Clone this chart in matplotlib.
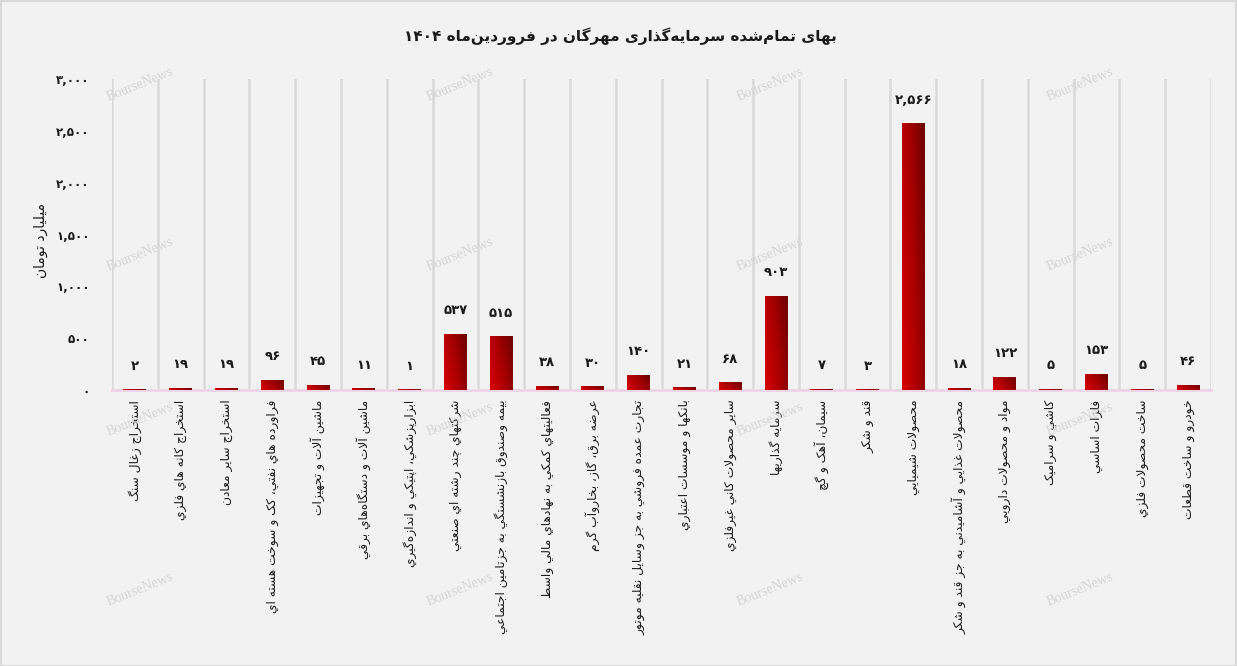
import numpy as np
import matplotlib
matplotlib.use("Agg")
import matplotlib.pyplot as plt
from matplotlib.colors import LinearSegmentedColormap
from matplotlib.ticker import FuncFormatter

TITLE = "بهای تمام‌شده سرمایه‌گذاری مهرگان در فروردین‌ماه ۱۴۰۴"
YLABEL = "میلیارد تومان"

categories = [
    "استخراج زغال سنگ",
    "استخراج كانه هاي فلزي",
    "استخراج ساير معادن",
    "فراورده هاي نفتي، كک و سوخت هسته اي",
    "ماشين آلات و تجهيزات",
    "ماشين آلات و دستگاه‌هاي برقي",
    "ابزارپزشكي، اپتيكي و اندازه‌گيري",
    "شركتهاي چند رشته اي صنعتي",
    "بيمه وصندوق بازنشستگي به جزتامين اجتماعي",
    "فعاليتهاي كمكي به نهادهاي مالي واسط",
    "عرضه برق، گاز، بخاروآب گرم",
    "تجارت عمده فروشي به جز وسايل نقليه موتور",
    "بانكها و موسسات اعتباري",
    "ساير محصولات كاني غيرفلزي",
    "سرمايه گذاريها",
    "سيمان، آهک و گچ",
    "قند و شكر",
    "محصولات شيميايي",
    "محصولات غذايي و آشاميدني به جز قند و شكر",
    "مواد و محصولات دارويي",
    "كاشي و سراميک",
    "فلزات اساسي",
    "ساخت محصولات فلزي",
    "خودرو و ساخت قطعات",
]
values = [2, 19, 19, 96, 45, 11, 1, 537, 515, 38, 30, 140, 21, 68, 903,
          7, 3, 2566, 18, 122, 5, 153, 5, 46]
yticks = [0, 500, 1000, 1500, 2000, 2500, 3000]

# --- tiny Arabic/Persian shaper (no arabic_reshaper available) ---
DUAL = {
    "ب": (0xFE8F, 0xFE90, 0xFE91, 0xFE92), "پ": (0xFB56, 0xFB57, 0xFB58, 0xFB59),
    "ت": (0xFE95, 0xFE96, 0xFE97, 0xFE98), "ث": (0xFE99, 0xFE9A, 0xFE9B, 0xFE9C),
    "ج": (0xFE9D, 0xFE9E, 0xFE9F, 0xFEA0), "چ": (0xFB7A, 0xFB7B, 0xFB7C, 0xFB7D),
    "ح": (0xFEA1, 0xFEA2, 0xFEA3, 0xFEA4), "خ": (0xFEA5, 0xFEA6, 0xFEA7, 0xFEA8),
    "س": (0xFEB1, 0xFEB2, 0xFEB3, 0xFEB4), "ش": (0xFEB5, 0xFEB6, 0xFEB7, 0xFEB8),
    "ص": (0xFEB9, 0xFEBA, 0xFEBB, 0xFEBC), "ض": (0xFEBD, 0xFEBE, 0xFEBF, 0xFEC0),
    "ط": (0xFEC1, 0xFEC2, 0xFEC3, 0xFEC4), "ظ": (0xFEC5, 0xFEC6, 0xFEC7, 0xFEC8),
    "ع": (0xFEC9, 0xFECA, 0xFECB, 0xFECC), "غ": (0xFECD, 0xFECE, 0xFECF, 0xFED0),
    "ف": (0xFED1, 0xFED2, 0xFED3, 0xFED4), "ق": (0xFED5, 0xFED6, 0xFED7, 0xFED8),
    "ک": (0xFB8E, 0xFB8F, 0xFB90, 0xFB91), "ك": (0xFED9, 0xFEDA, 0xFEDB, 0xFEDC),
    "گ": (0xFB92, 0xFB93, 0xFB94, 0xFB95), "ل": (0xFEDD, 0xFEDE, 0xFEDF, 0xFEE0),
    "م": (0xFEE1, 0xFEE2, 0xFEE3, 0xFEE4), "ن": (0xFEE5, 0xFEE6, 0xFEE7, 0xFEE8),
    "ه": (0xFEE9, 0xFEEA, 0xFEEB, 0xFEEC), "ی": (0xFBFC, 0xFBFD, 0xFBFE, 0xFBFF),
    "ي": (0xFEF1, 0xFEF2, 0xFEF3, 0xFEF4), "ئ": (0xFE89, 0xFE8A, 0xFE8B, 0xFE8C),
}
RIGHT = {
    "ا": (0xFE8D, 0xFE8E), "آ": (0xFE81, 0xFE82), "أ": (0xFE83, 0xFE84),
    "د": (0xFEA9, 0xFEAA), "ذ": (0xFEAB, 0xFEAC), "ر": (0xFEAD, 0xFEAE),
    "ز": (0xFEAF, 0xFEB0), "ژ": (0xFB8A, 0xFB8B), "و": (0xFEED, 0xFEEE),
    "ة": (0xFE93, 0xFE94),
}
LAMALEF = {"ا": (0xFEFB, 0xFEFC), "آ": (0xFEF5, 0xFEF6), "أ": (0xFEF7, 0xFEF8)}
DIGITS = "0123456789۰۱۲۳۴۵۶۷۸۹,"


def fa(s):
    out = []
    i = 0
    n = len(s)
    while i < n:
        c = s[i]
        prev = s[i - 1] if i > 0 else ""
        joins_prev = prev in DUAL
        nxt = s[i + 1] if i + 1 < n else ""
        if c == "ل" and nxt in LAMALEF:
            out.append(chr(LAMALEF[nxt][1 if joins_prev else 0]))
            i += 2
            continue
        if c in DUAL:
            joins_next = nxt in DUAL or nxt in RIGHT
            f = DUAL[c]
            if joins_prev and joins_next:
                out.append(chr(f[3]))
            elif joins_prev:
                out.append(chr(f[1]))
            elif joins_next:
                out.append(chr(f[2]))
            else:
                out.append(chr(f[0]))
        elif c in RIGHT:
            out.append(chr(RIGHT[c][1 if joins_prev else 0]))
        elif c == "\u200c":
            pass
        else:
            out.append(c)
        i += 1
    rev = "".join(reversed(out))
    # keep digit runs left-to-right
    res, run = "", ""
    for ch in rev:
        if ch in DIGITS:
            run += ch
        else:
            res += run[::-1] + ch
            run = ""
    return res + run[::-1]


def fa_num(v):
    return f"{int(v):,}".translate(str.maketrans("0123456789", "۰۱۲۳۴۵۶۷۸۹"))


plt.rcParams["font.family"] = ["DejaVu Sans"]

W, H = 1237, 666
fig = plt.figure(figsize=(W / 100, H / 100), dpi=100, facecolor="#f2f2f2")
fig.patches.append(plt.Rectangle((0.5 / W, 0.5 / H), 1 - 1.5 / W, 1 - 1.5 / H,
                                 transform=fig.transFigure, fill=False,
                                 edgecolor="#d9d9d9", linewidth=1.5))

left, right, top, bottom = 112, 1211, 79, 390
ax = fig.add_axes([left / W, 1 - bottom / H, (right - left) / W, (bottom - top) / H])
ax.set_facecolor("#f2f2f2")

x = np.arange(len(categories))
cmap = LinearSegmentedColormap.from_list("red", ["#d80000", "#a80000", "#6e0000"])
gx, gy = np.meshgrid(np.linspace(0, 1, 40), np.linspace(0, 1, 40))
grad = (gx * 0.7 + gy * 0.3)
bw = 0.5
for xi, v in zip(x, values):
    ax.imshow(grad, cmap=cmap, extent=(xi - bw / 2, xi + bw / 2, 0, v),
              origin="lower", aspect="auto", interpolation="bilinear", zorder=3)
    ax.annotate(fa_num(v), (xi, v), xytext=(0, 17), textcoords="offset points",
                ha="center", va="center", fontsize=9.5, fontweight="bold",
                color="#1a1a1a", zorder=4)

ax.set_xlim(-0.5, len(categories) - 0.5)
ax.set_ylim(0, 3000)
ax.set_xticks(x)
ax.set_xticklabels([fa(c) for c in categories], rotation=90, va="top",
                   ha="center", fontsize=8.8, color="#1a1a1a")
ax.set_xticks(np.arange(-0.5, len(categories), 1), minor=True)
ax.grid(which="minor", axis="x", color="#d9d9d9", linewidth=1.8, zorder=0)
ax.tick_params(axis="x", which="both", length=0, pad=7)

ax.set_yticks(yticks)
ax.yaxis.set_major_formatter(FuncFormatter(lambda v, p: fa_num(v)))
ax.tick_params(axis="y", length=0, pad=16, labelsize=8.5, labelcolor="#1a1a1a")
for lab in ax.get_yticklabels():
    lab.set_fontweight("bold")

for s in ["top", "left", "right"]:
    ax.spines[s].set_visible(False)
ax.spines["bottom"].set_color("#ecd3e6")
ax.spines["bottom"].set_linewidth(2)

ax.set_ylabel(fa(YLABEL), fontsize=10, color="#1a1a1a", rotation=90)
ax.yaxis.set_label_coords((48 - left) / (right - left), (bottom - 240) / (bottom - top))

fig.text(620 / W, 1 - 36 / H, fa(TITLE), ha="center", va="center",
         fontsize=11, fontweight="bold", color="#1a1a1a")

# watermark
for wx in [140, 460, 770, 1080]:
    for wy in [85, 255, 420, 590]:
        fig.text(wx / W, 1 - wy / H, "BourseNews", ha="center", va="center",
                 rotation=22, fontsize=10, family="Liberation Serif",
                 color="#d6d6d6", zorder=0)

fig.savefig("out.png", dpi=100, facecolor=fig.get_facecolor())
